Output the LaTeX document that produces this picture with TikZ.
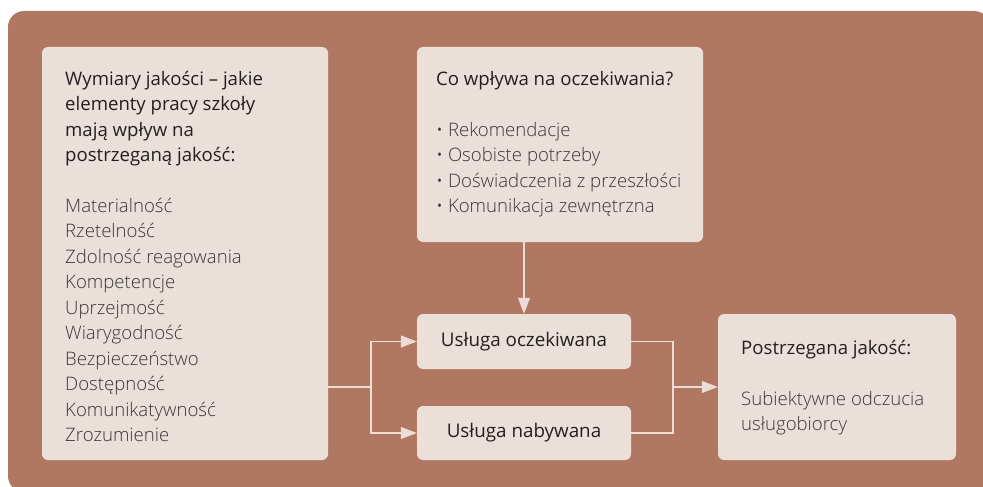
\documentclass[tikz,border=0pt]{standalone}
\usepackage{fontspec}
\setmainfont{Open Sans}
\newfontfamily\lightface{Open Sans Light}
\usetikzlibrary{arrows.meta}
\definecolor{panel}{HTML}{B07762}
\definecolor{boxfill}{HTML}{EBDFDA}
\definecolor{linkcol}{HTML}{EEDDD7}
\definecolor{ink}{HTML}{231F20}
\definecolor{inklight}{HTML}{3A3637}
\newcommand{\firstline}{\rule{0pt}{15pt}}
\begin{document}
\begin{tikzpicture}[x=1pt,y=-1pt,
  box/.style={fill=boxfill, rounded corners=6pt, inner sep=0pt, draw=none,
    text=ink, font=\fontsize{18.8}{25.5}\selectfont},
  head/.style={inner sep=0pt, anchor=north west, align=left, text=ink,
    font=\fontsize{18.6}{25.5}\selectfont},
  body/.style={head, text=inklight, font=\lightface\fontsize{18.6}{25.5}\selectfont},
  link/.style={draw=linkcol, line width=1.1pt},
  tip/.style={-{Triangle[length=16pt,width=12pt]}}]

\useasboundingbox (0,0) rectangle (983,487);
% background panel
\begin{scope}
  \clip (0,0) rectangle (983,487);
  \fill[panel, rounded corners=16pt] (8,11) rectangle (990,492);
\end{scope}

% boxes
\node[box, minimum width=286pt, minimum height=413pt] (dims) at (185,253.5) {};
\node[box, minimum width=286pt, minimum height=195pt] (infl) at (560,144.5) {};
\node[box, minimum width=214pt, minimum height=55pt] (expected) at (524,341.5) {Usługa oczekiwana};
\node[box, minimum width=214pt, minimum height=54pt] (acquired) at (524,433) {Usługa nabywana};
\node[box, minimum width=238pt, minimum height=146pt] (result) at (837,387) {};

% texts of the left box
\node[head] (dimshead) at (65,70) {\firstline Wymiary jakości – jakie\\ elementy pracy szkoły\\ mają wpływ na\\ postrzeganą jakość:};
\node[body] (dimslist) at (65,197) {\firstline Materialność\\ Rzetelność\\ Zdolność reagowania\\ Kompetencje\\ Uprzejmość\\ Wiarygodność\\ Bezpieczeństwo\\ Dostępność\\ Komunikatywność\\ Zrozumienie};

% texts of the upper box
\node[head] (inflhead) at (436,70) {\firstline Co wpływa na oczekiwania?};
\node[body] (infllist) at (436,121) {\firstline\textbullet\ Rekomendacje\\ \textbullet\ Osobiste potrzeby\\ \textbullet\ Doświadczenia z przeszłości\\ \textbullet\ Komunikacja zewnętrzna};

% texts of the right box
\node[head] (resulthead) at (741,339) {\firstline Postrzegana jakość:};
\node[body, font=\lightface\fontsize{18.6}{25}\selectfont] (resultbody) at (741,390) {\firstline Subiektywne odczucia\\ usługobiorcy};

% connectors
\coordinate (split) at (371,387);
\coordinate (join) at (673,387);
\draw[link] (dims.east |- split) -- (split);
\draw[link,tip] (split) |- (expected.west);
\draw[link,tip] (split) |- (acquired.west);
\draw[link,tip] (infl.south -| expected.north) -- (expected.north);
\draw[link] (expected.east) -| (join);
\draw[link] (acquired.east) -| (join);
\draw[link,tip] (join) -- (result.west);
\end{tikzpicture}
\end{document}
